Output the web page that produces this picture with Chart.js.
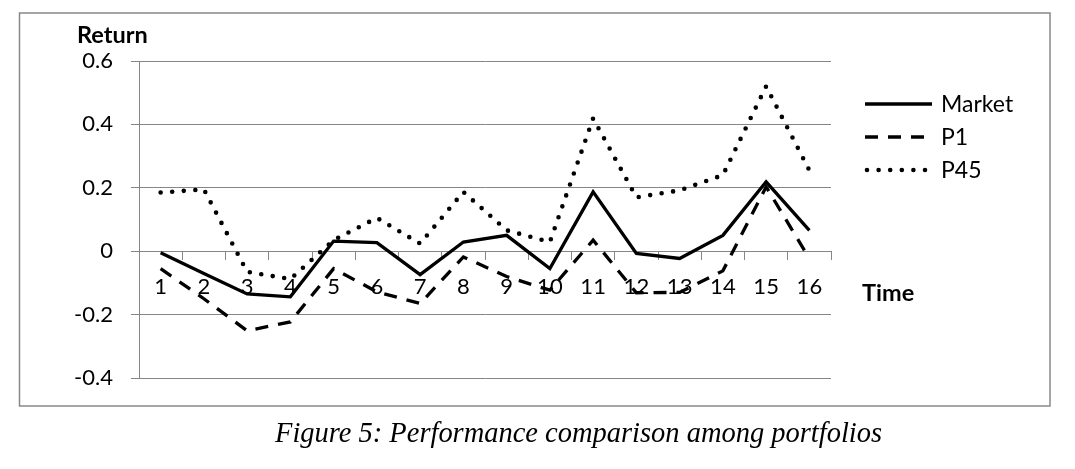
<!DOCTYPE html>
<html><head><meta charset="utf-8">
<script src="https://cdn.jsdelivr.net/npm/chart.js@4.4.0/dist/chart.umd.min.js"></script>
<style>html,body{margin:0;padding:0;background:#fff;overflow:hidden}#wrap{position:relative;width:1075px;height:469px}</style>
</head><body><div id="wrap"><canvas id="c" width="1075" height="469"></canvas></div>
<script>
const categories = ['1','2','3','4','5','6','7','8','9','10','11','12','13','14','15','16'];
const seriesNames = ['Market', 'P1', 'P45'];
const market = [-0.005, -0.07, -0.135, -0.144, 0.032, 0.027, -0.074, 0.029, 0.05, -0.055, 0.187, -0.007, -0.023, 0.05, 0.219, 0.066];
const p1 = [-0.055, -0.15, -0.251, -0.223, -0.055, -0.128, -0.165, -0.018, -0.08, -0.123, 0.035, -0.131, -0.13, -0.062, 0.203, -0.023];
const p45 = [0.185, 0.195, -0.065, -0.088, 0.035, 0.105, 0.024, 0.187, 0.066, 0.029, 0.419, 0.17, 0.192, 0.24, 0.52, 0.255];
const yMin = -0.4, yMax = 0.6, yStep = 0.2;
const yAxisTitle = 'Return';
const xAxisTitle = 'Time';
const caption = 'Figure 5: Performance comparison among portfolios';

const GRID = '#868686';
const FONT = 'Lato, "Open Sans", sans-serif';

const decor = {
  id: 'decor',
  beforeDraw(chart) {
    const ctx = chart.ctx;
    ctx.save();
    ctx.fillStyle = '#fff';
    ctx.fillRect(0, 0, chart.width, chart.height);
    ctx.strokeStyle = '#888';
    ctx.lineWidth = 1.5;
    ctx.strokeRect(19.5, 13, 1030.5, 393);
    ctx.restore();
  },
  afterDraw(chart) {
    const ctx = chart.ctx;
    ctx.save();
    ctx.fillStyle = '#000';
    ctx.textBaseline = 'middle';
    ctx.textAlign = 'left';
    ctx.font = 'bold 23.5px ' + FONT;
    ctx.fillText(yAxisTitle, 77, 35);
    ctx.fillText(xAxisTitle, 862, 293);
    // legend
    const rows = [104, 137, 170];
    chart.data.datasets.forEach((ds, i) => {
      const y = rows[i];
      ctx.save();
      ctx.strokeStyle = ds.borderColor;
      ctx.lineWidth = ds.borderWidth;
      ctx.lineCap = ds.borderCapStyle || 'butt';
      ctx.setLineDash(ds.borderDash || []);
      ctx.beginPath();
      ctx.moveTo(ds.borderCapStyle === 'round' ? 867 : 865, y);
      ctx.lineTo(932, y);
      ctx.stroke();
      ctx.restore();
      ctx.font = '23px ' + FONT;
      ctx.fillText(ds.label, 941, y + 1);
    });
    // caption
    let size = 26;
    ctx.font = 'italic ' + size + 'px "Liberation Serif", "Times New Roman", serif';
    const w = ctx.measureText(caption).width;
    size = size * 607 / w;
    ctx.font = 'italic ' + size.toFixed(2) + 'px "Liberation Serif", "Times New Roman", serif';
    ctx.textAlign = 'center';
    ctx.textBaseline = 'alphabetic';
    ctx.fillText(caption, 578.5, 442);
    ctx.restore();
  }
};

new Chart(document.getElementById('c'), {
  type: 'line',
  data: {
    labels: categories,
    datasets: [
      { label: seriesNames[0], data: market, borderColor: '#000', borderWidth: 3.3, pointRadius: 0, tension: 0, fill: false, borderJoinStyle: 'miter' },
      { label: seriesNames[1], data: p1, borderColor: '#000', borderWidth: 3.3, borderDash: [13, 10], pointRadius: 0, tension: 0, fill: false },
      { label: seriesNames[2], data: p45, borderColor: '#000', borderWidth: 4.6, borderDash: [0, 11.6], borderCapStyle: 'round', pointRadius: 0, tension: 0, fill: false }
    ]
  },
  options: {
    responsive: false,
    animation: false,
    devicePixelRatio: 1,
    layout: { padding: { left: 0, top: 61, right: 244, bottom: 91 } },
    plugins: { legend: { display: false }, tooltip: { enabled: false } },
    scales: {
      x: {
        type: 'category',
        position: { y: 0 },
        offset: true,
        grid: { display: true, drawOnChartArea: false, drawTicks: true, tickLength: 9, color: GRID, offset: true },
        border: { display: false },
        ticks: { color: '#000', font: { family: FONT, size: 22 }, padding: 13.5, maxRotation: 0, autoSkip: false }
      },
      y: {
        min: yMin, max: yMax,
        afterFit(s) { s.width = 139; },
        grid: { color: GRID, lineWidth: 1, tickLength: 8, drawTicks: true },
        border: { display: true, color: GRID, width: 1 },
        ticks: { stepSize: yStep, color: '#000', font: { family: FONT, size: 22 }, padding: 18,
          callback: v => String(Number(Number(v).toFixed(1))) }
      }
    }
  },
  plugins: [decor]
});
</script>
</body></html>
